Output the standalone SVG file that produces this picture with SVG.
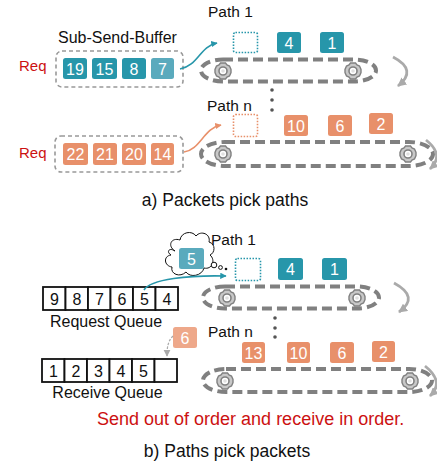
<svg xmlns="http://www.w3.org/2000/svg" width="437" height="468" viewBox="0 0 437 468">
  <style>
    text { font-family: "Liberation Sans", Arial, sans-serif; }
    .lbl { font-size: 15.5px; fill: #111; }
    .cap { font-size: 17.5px; fill: #111; text-anchor: middle; }
    .req { font-size: 15px; fill: #cc1111; }
    .num { font-size: 16px; fill: #fff; text-anchor: middle; }
    .qn { font-size: 16px; fill: #111; text-anchor: middle; }
    .teal { fill: #2796aa; }
    .teal-l { fill: #5aaabd; }
    .orange { fill: #e8906a; }
    .orange-l { fill: #eea88a; }
    .buf { fill: none; stroke: #999; stroke-width: 1.6; stroke-dasharray: 4 3; }
    .slot-t { fill: none; stroke: #2796aa; stroke-width: 1.6; stroke-dasharray: 1.5 1.5; }
    .slot-o { fill: none; stroke: #e8906a; stroke-width: 1.6; stroke-dasharray: 1.5 1.5; }
    .belt { fill: none; stroke: #808080; stroke-width: 4; stroke-dasharray: 10 5; }
    .ret { fill: none; stroke: #aaa; stroke-width: 2.8; }
    .cell { fill: #fff; stroke: #111; stroke-width: 1.8; }
    .dot { fill: #555; }
  </style>
  <defs>
    <marker id="ah-teal" viewBox="0 0 10 10" refX="9" refY="5" markerWidth="4" markerHeight="4" orient="auto">
      <path d="M0,0 L10,5 L0,10 z" fill="#2796aa"/>
    </marker>
    <marker id="ah-orange" viewBox="0 0 10 10" refX="9" refY="5" markerWidth="4" markerHeight="4" orient="auto">
      <path d="M0,0 L10,5 L0,10 z" fill="#e8906a"/>
    </marker>
    <marker id="ah-gray" viewBox="0 0 10 10" refX="9" refY="5" markerWidth="3.2" markerHeight="3.2" orient="auto">
      <path d="M0,0 L10,5 L0,10 z" fill="#aaa"/>
    </marker>
    <marker id="ah-gray2" viewBox="0 0 10 10" refX="9" refY="5" markerWidth="6" markerHeight="6" orient="auto">
      <path d="M0,0 L10,5 L0,10 z" fill="#aaa"/>
    </marker>
    <!-- gear / nut used at both ends of each belt -->
    <g id="gear">
      <path d="M-2.5,-8 L2.5,-8 L4,-6 L6.5,-5 L8,-1.5 L8,1.5 L6.5,5 L4,6 L2.5,8 L-2.5,8 L-4,6 L-6.5,5 L-8,1.5 L-8,-1.5 L-6.5,-5 L-4,-6 z" fill="#c8c8c8" stroke="#808080" stroke-width="1.4"/>
      <circle r="4" fill="#fff" stroke="#808080" stroke-width="1.6"/>
      <circle r="1.8" fill="#e0e0e0"/>
    </g>
  </defs>

  <!-- ===== a) Packets pick paths ===== -->
  <g id="sub-send-buffer-1">
    <text class="lbl" x="58" y="43" style="font-size:16px">Sub-Send-Buffer</text>
    <text class="req" x="19" y="71">Req</text>
    <rect class="buf" x="56" y="51" width="127" height="36" rx="6"/>
    <rect class="teal" x="63" y="58" width="24" height="21" rx="2.5"/>
    <text class="num" x="75" y="74.5">19</text>
    <rect class="teal" x="92" y="58" width="25" height="21" rx="2.5"/>
    <text class="num" x="104.5" y="74.5">15</text>
    <rect class="teal" x="122" y="58" width="24" height="21" rx="2.5"/>
    <text class="num" x="134" y="74.5">8</text>
    <rect class="teal-l" x="151" y="58" width="23" height="21" rx="2.5"/>
    <text class="num" x="162.5" y="74.5">7</text>
  </g>

  <g id="sub-send-buffer-n">
    <text class="req" x="19" y="158">Req</text>
    <rect class="buf" x="55" y="136" width="128" height="36" rx="6"/>
    <rect class="orange" x="63" y="143" width="25" height="22" rx="2.5"/>
    <text class="num" x="75.5" y="160">22</text>
    <rect class="orange" x="93" y="143" width="24" height="22" rx="2.5"/>
    <text class="num" x="105" y="160">21</text>
    <rect class="orange" x="122" y="143" width="24" height="22" rx="2.5"/>
    <text class="num" x="134" y="160">20</text>
    <rect class="orange" x="151" y="143" width="23" height="22" rx="2.5"/>
    <text class="num" x="162.5" y="160">14</text>
  </g>

  <g id="path-1-a">
    <text class="lbl" x="208" y="17">Path 1</text>
    <rect class="slot-t" x="233.5" y="32.5" width="24" height="20" rx="2"/>
    <rect class="teal" x="277" y="32" width="24" height="21" rx="2.5"/>
    <text class="num" x="289" y="48.5">4</text>
    <rect class="teal" x="320" y="32" width="24" height="21" rx="2.5"/>
    <text class="num" x="332" y="48.5">1</text>
    <rect class="belt" x="201" y="59.5" width="175" height="22" rx="22" ry="11"/>
    <use href="#gear" x="223" y="71"/>
    <use href="#gear" x="353" y="71"/>
    <path class="ret" d="M393,57 Q418,70 398,86" marker-end="url(#ah-gray)"/>
  </g>

  <g id="ellipsis-a">
    <circle class="dot" cx="272" cy="90" r="1.8"/>
    <circle class="dot" cx="272" cy="100" r="1.8"/>
    <circle class="dot" cx="272" cy="110" r="1.8"/>
  </g>

  <g id="path-n-a">
    <text class="lbl" x="207" y="111">Path n</text>
    <rect class="slot-o" x="233.5" y="114.5" width="24" height="22" rx="2"/>
    <rect class="orange" x="284" y="115" width="24" height="21" rx="2.5"/>
    <text class="num" x="296" y="131.5">10</text>
    <rect class="orange" x="328" y="115" width="24" height="21" rx="2.5"/>
    <text class="num" x="340" y="131.5">6</text>
    <rect class="orange" x="369" y="113" width="24" height="21" rx="2.5"/>
    <text class="num" x="381" y="129.5">2</text>
    <rect class="belt" x="201" y="142" width="232" height="24" rx="24" ry="12"/>
    <use href="#gear" x="223" y="154"/>
    <use href="#gear" x="408" y="154"/>
    <path class="ret" d="M426,140 Q445,155 430,169" marker-end="url(#ah-gray)"/>
  </g>

  <g id="connectors-a">
    <path d="M180,69 C198,66 200,46 217,43" fill="none" stroke="#2796aa" stroke-width="1.6" marker-end="url(#ah-teal)"/>
    <path d="M184,152 C200,150 204,128 221,125" fill="none" stroke="#e8906a" stroke-width="1.6" marker-end="url(#ah-orange)"/>
  </g>

  <text class="cap" x="225" y="206">a) Packets pick paths</text>

  <!-- ===== b) Paths pick packets ===== -->
  <g id="thought-cloud">
    <path d="M175,251 C167,246 171,237 180,240 C181,232 192,230 196,236 C201,230 211,234 209,242 C216,244 215,253 210,255 C216,260 212,270 204,268 C202,276 190,278 186,272 C180,278 170,274 172,267 C164,266 163,256 171,255 C166,252 169,247 175,251 z" fill="#fff" stroke="#111" stroke-width="1"/>
    <rect class="teal-l" x="179" y="248" width="25" height="21" rx="2.5"/>
    <text class="num" x="191.5" y="264.5">5</text>
    <circle cx="214" cy="265" r="2.8" fill="#fff" stroke="#111" stroke-width="1"/>
    <circle cx="220.5" cy="267.5" r="1.9" fill="#fff" stroke="#111" stroke-width="1"/>
    <circle cx="226" cy="269" r="1.3" fill="#111"/>
  </g>

  <g id="path-1-b">
    <text class="lbl" x="211" y="245">Path 1</text>
    <rect class="slot-t" x="235.5" y="258.5" width="25" height="22" rx="2"/>
    <rect class="teal" x="278" y="258" width="25" height="22" rx="2.5"/>
    <text class="num" x="290.5" y="275">4</text>
    <rect class="teal" x="322" y="258" width="25" height="22" rx="2.5"/>
    <text class="num" x="334.5" y="275">1</text>
    <rect class="belt" x="203" y="286.5" width="176" height="22" rx="22" ry="11"/>
    <use href="#gear" x="227" y="298"/>
    <use href="#gear" x="357" y="298"/>
    <path class="ret" d="M394,283 Q420,297 399,312" marker-end="url(#ah-gray)"/>
  </g>

  <g id="ellipsis-b">
    <circle class="dot" cx="275" cy="318" r="1.8"/>
    <circle class="dot" cx="275" cy="328" r="1.8"/>
    <circle class="dot" cx="275" cy="337" r="1.8"/>
  </g>

  <g id="path-n-b">
    <text class="lbl" x="208" y="337">Path n</text>
    <rect class="orange" x="242" y="342" width="23" height="21" rx="2.5"/>
    <text class="num" x="253.5" y="358.5">13</text>
    <rect class="orange" x="287" y="342" width="23" height="21" rx="2.5"/>
    <text class="num" x="298.5" y="358.5">10</text>
    <rect class="orange" x="330" y="342" width="24" height="21" rx="2.5"/>
    <text class="num" x="342" y="358.5">6</text>
    <rect class="orange" x="372" y="341" width="23" height="21" rx="2.5"/>
    <text class="num" x="383.5" y="357.5">2</text>
    <rect class="belt" x="203" y="369" width="229" height="23" rx="23" ry="11.5"/>
    <use href="#gear" x="225" y="381"/>
    <use href="#gear" x="410" y="381"/>
    <path class="ret" d="M425,366 Q445,382 430,396" marker-end="url(#ah-gray)"/>
  </g>

  <g id="request-queue">
    <rect class="cell" x="43" y="287" width="22.5" height="23"/>
    <rect class="cell" x="65.5" y="287" width="22.5" height="23"/>
    <rect class="cell" x="88" y="287" width="22.5" height="23"/>
    <rect class="cell" x="110.5" y="287" width="22.5" height="23"/>
    <rect class="cell" x="133" y="287" width="22.5" height="23"/>
    <rect class="cell" x="155.5" y="287" width="22.5" height="23"/>
    <text class="qn" x="54.5" y="304.5">9</text>
    <text class="qn" x="77" y="304.5">8</text>
    <text class="qn" x="99.5" y="304.5">7</text>
    <text class="qn" x="122" y="304.5">6</text>
    <text class="qn" x="144.5" y="304.5">5</text>
    <text class="qn" x="167" y="304.5">4</text>
    <text class="qn" x="106" y="326.5">Request Queue</text>
  </g>

  <g id="packet-6">
    <rect class="orange-l" x="173" y="327" width="24" height="21" rx="2.5"/>
    <text class="num" x="185" y="343.5">6</text>
  </g>

  <g id="receive-queue">
    <rect class="cell" x="42" y="359" width="22.5" height="23"/>
    <rect class="cell" x="64.5" y="359" width="22.5" height="23"/>
    <rect class="cell" x="87" y="359" width="22.5" height="23"/>
    <rect class="cell" x="109.5" y="359" width="22.5" height="23"/>
    <rect class="cell" x="132" y="359" width="22.5" height="23"/>
    <rect class="cell" x="154.5" y="359" width="22.5" height="23"/>
    <text class="qn" x="53.5" y="376.5">1</text>
    <text class="qn" x="76" y="376.5">2</text>
    <text class="qn" x="98.5" y="376.5">3</text>
    <text class="qn" x="121" y="376.5">4</text>
    <text class="qn" x="143.5" y="376.5">5</text>
    <text class="qn" x="107.5" y="398">Receive Queue</text>
  </g>

  <g id="connectors-b">
    <path d="M144,290 C150,279 190,275 226,276" fill="none" stroke="#2796aa" stroke-width="1.6" marker-end="url(#ah-teal)"/>
    <path d="M173,336 C168,341 167,347 167,356" fill="none" stroke="#aaa" stroke-width="1.2" stroke-dasharray="2.5 1.5" marker-end="url(#ah-gray2)"/>
  </g>

  <text class="req" x="97" y="424.5" style="font-size:18px">Send out of order and receive in order.</text>
  <text class="cap" x="227" y="457">b) Paths pick packets</text>
</svg>
